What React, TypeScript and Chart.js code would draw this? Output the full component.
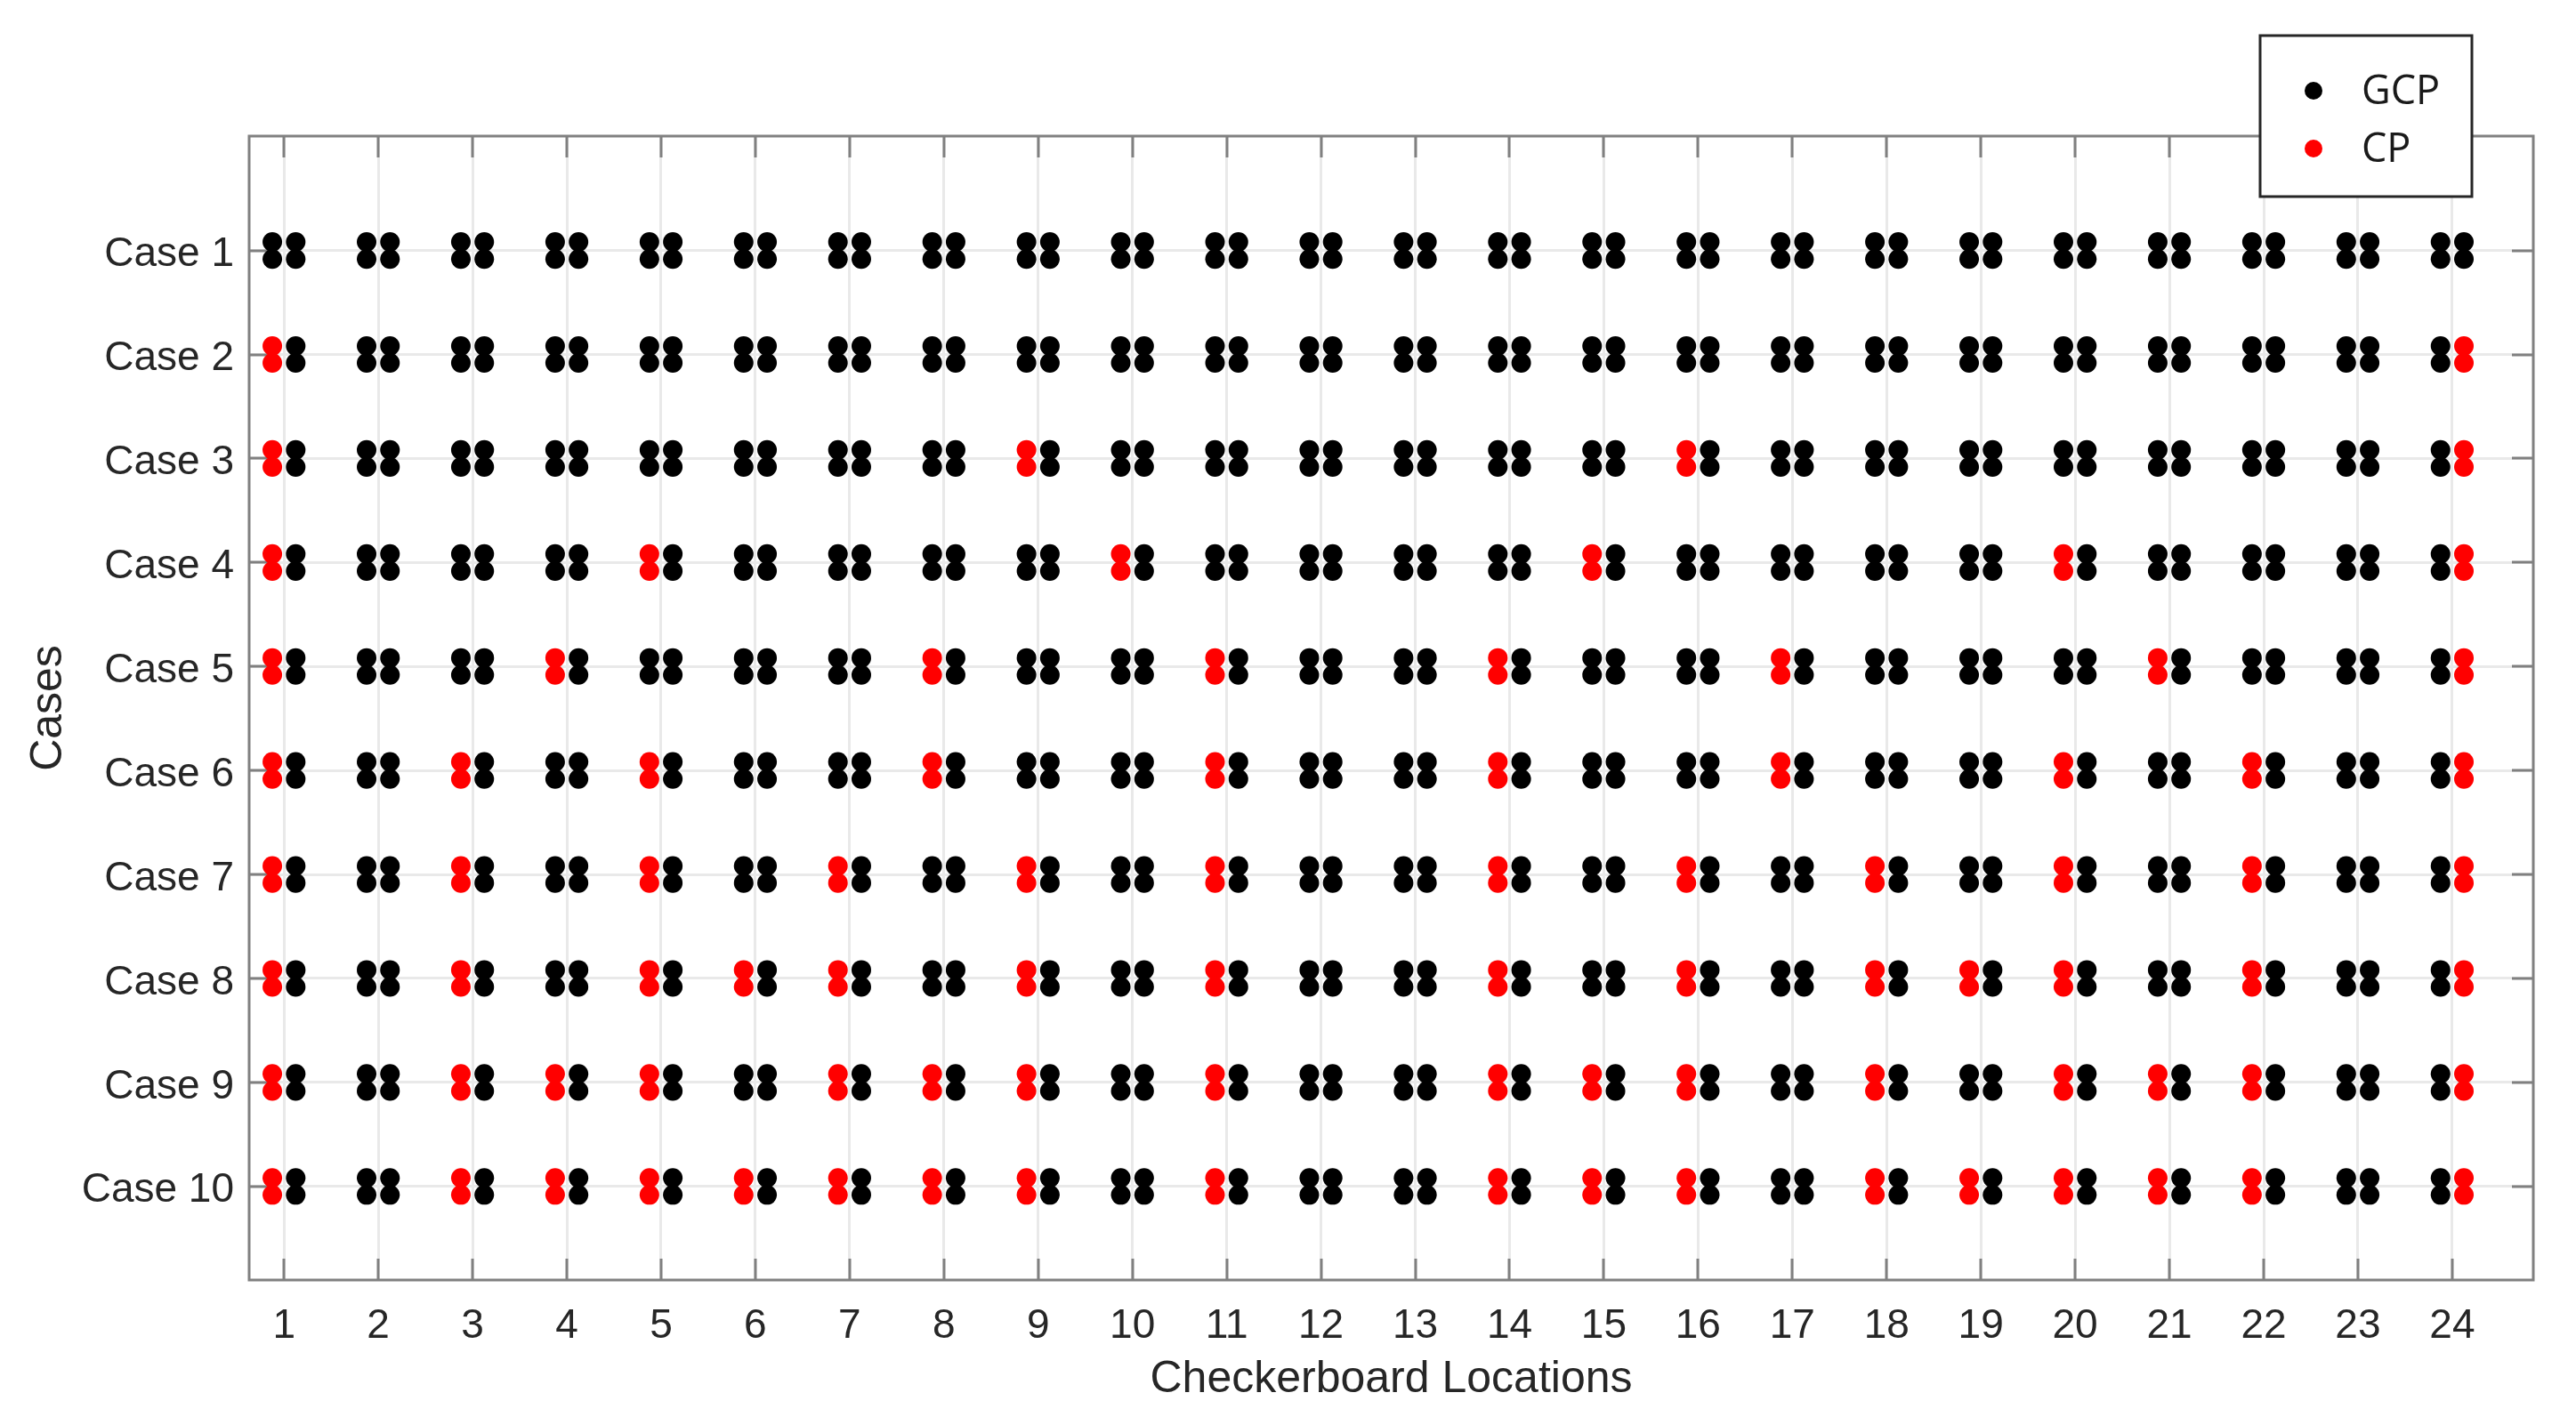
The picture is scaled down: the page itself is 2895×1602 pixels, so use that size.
import React, { useEffect, useRef } from "react";
import { Chart, registerables } from "chart.js";

Chart.register(...registerables);

// ---------------- DATA ----------------
const locations: number[] = [1, 2, 3, 4, 5, 6, 7, 8, 9, 10, 11, 12, 13, 14, 15, 16, 17, 18, 19, 20, 21, 22, 23, 24];
const caseNumbers: number[] = [1, 2, 3, 4, 5, 6, 7, 8, 9, 10];
const caseLabels: string[] = ["Case 1", "Case 2", "Case 3", "Case 4", "Case 5", "Case 6", "Case 7", "Case 8", "Case 9", "Case 10"];
// checkerboard locations whose control points (CP) are used, per case
const cpCase1: number[] = [];
const cpCase2: number[] = [1, 24];
const cpCase3: number[] = [1, 9, 16, 24];
const cpCase4: number[] = [1, 5, 10, 15, 20, 24];
const cpCase5: number[] = [1, 4, 8, 11, 14, 17, 21, 24];
const cpCase6: number[] = [1, 3, 5, 8, 11, 14, 17, 20, 22, 24];
const cpCase7: number[] = [1, 3, 5, 7, 9, 11, 14, 16, 18, 20, 22, 24];
const cpCase8: number[] = [1, 3, 5, 6, 7, 9, 11, 14, 16, 18, 19, 20, 22, 24];
const cpCase9: number[] = [1, 3, 4, 5, 7, 8, 9, 11, 14, 15, 16, 18, 20, 21, 22, 24];
const cpCase10: number[] = [1, 3, 4, 5, 6, 7, 8, 9, 11, 14, 15, 16, 18, 19, 20, 21, 22, 24];
const cpByCase: number[][] = [cpCase1, cpCase2, cpCase3, cpCase4, cpCase5, cpCase6, cpCase7, cpCase8, cpCase9, cpCase10];
// locations where the CP pair is the right-hand column of the marker group
const cpRightColumnAt: number[] = [24];
const seriesNames: string[] = ["GCP", "CP"];
const axisTitles: string[] = ["Checkerboard Locations", "Cases"];

// ---------------- STYLE / LAYOUT CONSTANTS ----------------
const W = 2895;
const H = 1602;
const PLOT = { left: 280, top: 153, right: 2847, bottom: 1439 };
const X_MIN = 0.63;
const X_MAX = 24.86;
const Y_MIN = -0.1;
const Y_MAX = 10.9;
const DX = 0.124; // half spacing of marker columns (data units)
const DY = 0.082; // half spacing of marker rows (data units)
const DOT_R = 11;
const BLACK = "#000000";
const RED = "#ff0000";
const AXIS_COLOR = "#808080";
const GRID_COLOR = "#e9e9e9";
const TEXT_COLOR = "#262626";
const FONT = "'Liberation Sans', Arial, sans-serif";

function buildPoints() {
  const gcp: { x: number; y: number }[] = [];
  const cp: { x: number; y: number }[] = [];
  caseNumbers.forEach((c, ci) => {
    const reds = cpByCase[ci];
    locations.forEach((loc) => {
      const isCP = reds.includes(loc);
      const redRight = cpRightColumnAt.includes(loc);
      [-1, 1].forEach((side) => {
        const isRedCol = isCP && ((side === -1 && !redRight) || (side === 1 && redRight));
        [-1, 1].forEach((v) => {
          const p = { x: loc + side * DX, y: c + v * DY };
          (isRedCol ? cp : gcp).push(p);
        });
      });
    });
  });
  return { gcp, cp };
}

const boxPlugin = {
  id: "matlabBox",
  beforeDatasetsDraw(chart: any) {
    const ctx = chart.ctx;
    const { left, right, top, bottom } = chart.chartArea;
    const xs = chart.scales.x;
    const ys = chart.scales.y;
    ctx.save();
    ctx.strokeStyle = AXIS_COLOR;
    ctx.lineWidth = 3;
    ctx.beginPath();
    const tl = 24;
    locations.forEach((v) => {
      const px = Math.round(xs.getPixelForValue(v));
      ctx.moveTo(px, bottom);
      ctx.lineTo(px, bottom - tl);
      ctx.moveTo(px, top);
      ctx.lineTo(px, top + tl);
    });
    caseNumbers.forEach((v) => {
      const py = Math.round(ys.getPixelForValue(v));
      ctx.moveTo(left, py);
      ctx.lineTo(left + tl, py);
      ctx.moveTo(right, py);
      ctx.lineTo(right - tl, py);
    });
    ctx.stroke();
    ctx.strokeRect(left, top, right - left, bottom - top);
    ctx.restore();
  },
  afterDraw(chart: any) {
    const ctx = chart.ctx;
    const { left, right, top, bottom } = chart.chartArea;
    ctx.save();
    // axis titles
    ctx.fillStyle = TEXT_COLOR;
    ctx.font = `50px ${FONT}`;
    ctx.textAlign = "center";
    ctx.textBaseline = "middle";
    ctx.fillText(axisTitles[0], (left + right) / 2, 1551);
    ctx.translate(55, (top + bottom) / 2);
    ctx.rotate(-Math.PI / 2);
    ctx.fillText(axisTitles[1], 0, 0);
    ctx.restore();

    // legend
    ctx.save();
    const lx = 2540, ly = 40, lw = 238, lh = 181;
    ctx.fillStyle = "#ffffff";
    ctx.fillRect(lx, ly, lw, lh);
    ctx.strokeStyle = "#262626";
    ctx.lineWidth = 3;
    ctx.strokeRect(lx, ly, lw, lh);
    const rows = [
      { name: seriesNames[0], color: BLACK, y: 102 },
      { name: seriesNames[1], color: RED, y: 167 },
    ];
    rows.forEach((r) => {
      ctx.fillStyle = r.color;
      ctx.beginPath();
      ctx.arc(2600, r.y, 10, 0, Math.PI * 2);
      ctx.fill();
      ctx.fillStyle = "#1a1a1a";
      ctx.font = `45px 'Open Sans', sans-serif`;
      ctx.textAlign = "left";
      ctx.textBaseline = "middle";
      ctx.fillText(r.name, 2654, r.y + 2);
    });
    ctx.restore();
  },
};

export default function App() {
  const canvasRef = useRef<HTMLCanvasElement | null>(null);

  useEffect(() => {
    const canvas = canvasRef.current;
    if (!canvas) return;
    const { gcp, cp } = buildPoints();
    const chart = new Chart(canvas, {
      type: "scatter",
      data: {
        datasets: [
          {
            label: seriesNames[0],
            data: gcp,
            backgroundColor: BLACK,
            borderColor: BLACK,
            borderWidth: 0,
            pointRadius: DOT_R,
            pointHoverRadius: DOT_R,
          },
          {
            label: seriesNames[1],
            data: cp,
            backgroundColor: RED,
            borderColor: RED,
            borderWidth: 0,
            pointRadius: DOT_R,
            pointHoverRadius: DOT_R,
          },
        ],
      },
      options: {
        responsive: false,
        animation: false,
        devicePixelRatio: 1,
        layout: {
          padding: { left: 0, top: PLOT.top, right: W - PLOT.right, bottom: 0 },
        },
        plugins: {
          legend: { display: false },
          tooltip: { enabled: false },
        },
        scales: {
          x: {
            type: "linear",
            min: X_MIN,
            max: X_MAX,
            afterBuildTicks: (scale: any) => {
              scale.ticks = locations.map((v) => ({ value: v }));
            },
            afterFit: (scale: any) => {
              scale.height = H - PLOT.bottom;
            },
            ticks: {
              autoSkip: false,
              maxRotation: 0,
              padding: 25,
              color: TEXT_COLOR,
              font: { family: FONT, size: 46 },
              callback: (v: any) => String(v),
            },
            grid: { color: GRID_COLOR, lineWidth: 3, drawTicks: false },
            border: { display: false },
          },
          y: {
            type: "linear",
            reverse: true,
            min: Y_MIN,
            max: Y_MAX,
            afterBuildTicks: (scale: any) => {
              scale.ticks = caseNumbers.map((v) => ({ value: v }));
            },
            afterFit: (scale: any) => {
              scale.width = PLOT.left;
            },
            ticks: {
              autoSkip: false,
              padding: 17,
              labelOffset: 5,
              color: TEXT_COLOR,
              font: { family: FONT, size: 46 },
              callback: (_v: any, i: number) => caseLabels[i],
            },
            grid: { color: GRID_COLOR, lineWidth: 3, drawTicks: false },
            border: { display: false },
          },
        },
      },
      plugins: [boxPlugin],
    });
    return () => chart.destroy();
  }, []);

  return (
    <div style={{ position: "absolute", left: 0, top: 0, width: W, height: H, background: "#ffffff" }}>
      <canvas ref={canvasRef} width={W} height={H} style={{ display: "block" }} />
    </div>
  );
}
